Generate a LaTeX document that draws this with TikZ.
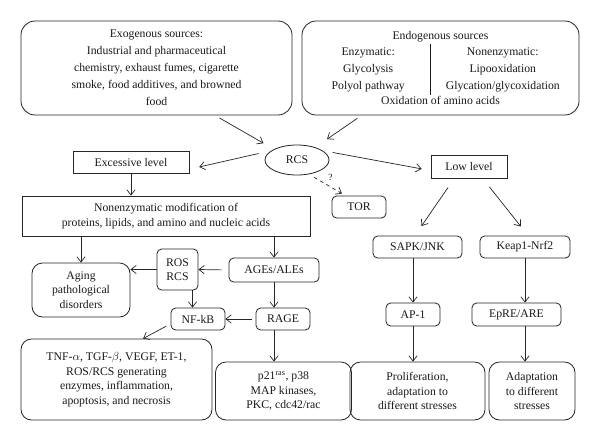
\documentclass[tikz,border=0pt]{standalone}
\usepackage{fontspec}
\setmainfont{Liberation Serif}
\usepackage{array}
\usetikzlibrary{arrows.meta,shapes.geometric}
\begin{document}
\begin{tikzpicture}[x=0.03cm,y=-0.03cm,
	>={Straight Barb[length=4.5pt,width=7pt]},
	every node/.style={font=\fontsize{10}{12.5}\selectfont, align=center, text=black!90},
	box/.style={draw=black!85, line width=0.7pt, inner sep=1pt},
	rbox/.style={box, rounded corners=4pt},
	bigbox/.style={box, rounded corners=9pt},
	srcbox/.style={box, rounded corners=12pt, font=\fontsize{10}{14.5}\selectfont},
	arr/.style={->, draw=black!85, line width=0.6pt}]
	\useasboundingbox (0,0) rectangle (600,441);
	\node[srcbox, minimum width=8.13cm, minimum height=2.82cm] (exo) at (156.5,68) {Exogenous sources:\\Industrial and pharmaceutical\\chemistry, exhaust fumes, cigarette\\smoke, food additives, and browned\\food};
	\node[srcbox, minimum width=8.31cm, minimum height=2.82cm] (endo) at (440.5,68) {Endogenous sources\\
		\begin{tabular}{@{}>{\centering\arraybackslash}p{3.3cm}|>{\centering\arraybackslash}p{3.9cm}@{}}
			Enzymatic: & Nonenzymatic:\\ Glycolysis & Lipooxidation\\ Polyol pathway & Glycation/glycoxidation
		\end{tabular}\\Oxidation of amino acids};
	\node[draw=black!85, line width=0.7pt, ellipse, minimum width=1.92cm, minimum height=0.9cm] (rcs) at (297,160) {RCS};
	\node[box, minimum width=3.48cm, minimum height=0.66cm] (excess) at (131,162) {Excessive level};
	\node[box, minimum width=2.28cm, minimum height=0.69cm] (low) at (469,166.5) {Low level};
	\node[rbox, minimum width=1.62cm, minimum height=0.66cm] (tor) at (359,207) {TOR};
	\node[box, minimum width=8.64cm, minimum height=1.2cm] (nonenz) at (166,216) {Nonenzymatic modification of\\proteins, lipids, and amino and nucleic acids};
	\node[bigbox, minimum width=2.94cm, minimum height=1.62cm] (aging) at (81,290) {Aging\\pathological\\disorders};
	\node[rbox, minimum width=1.23cm, minimum height=1.23cm] (ros) at (177.5,269.5) {ROS\\RCS};
	\node[rbox, minimum width=2.7cm, minimum height=0.72cm] (ages) at (274,270) {AGEs/ALEs};
	\node[rbox, minimum width=1.62cm, minimum height=0.66cm] (nfkb) at (198,319) {NF-kB};
	\node[rbox, minimum width=1.62cm, minimum height=0.66cm] (rage) at (283,319) {RAGE};
	\node[bigbox, minimum width=5.73cm, minimum height=2.43cm] (tnf) at (116.5,379.5) {TNF-$\alpha$, TGF-$\beta$, VEGF, ET-1,\\ROS/RCS generating\\enzymes, inflammation,\\apoptosis, and necrosis};
	\node[bigbox, minimum width=4.08cm, minimum height=1.74cm] (p21) at (283.5,391) {p21\textsuperscript{ras}, p38\\MAP kinases,\\PKC, cdc42/rac};
	\node[rbox, minimum width=2.67cm, minimum height=0.66cm] (sapk) at (417.5,247) {SAPK/JNK};
	\node[rbox, minimum width=2.7cm, minimum height=0.66cm] (keap) at (525,247) {Keap1-Nrf2};
	\node[rbox, minimum width=1.62cm, minimum height=0.69cm] (ap1) at (413,314.5) {AP-1};
	\node[rbox, minimum width=2.67cm, minimum height=0.69cm] (epre) at (516.5,314.5) {EpRE/ARE};
	\node[bigbox, minimum width=4.05cm, minimum height=1.74cm] (prolif) at (417.5,391) {Proliferation,\\adaptation to\\different stresses};
	\node[bigbox, minimum width=2.58cm, minimum height=1.74cm] (adapt) at (532,391) {Adaptation\\to different\\stresses};
	\draw[arr, shorten <=0.15cm, shorten >=0.36cm] (exo.-39) -- (rcs.155);
	\draw[arr, shorten <=0.15cm, shorten >=0.43cm] (endo.-149) -- (rcs.35);
	\draw[arr, shorten <=0.39cm, shorten >=0.3cm] (rcs.160) -- (excess.-7);
	\draw[arr, shorten <=0.3cm, shorten >=0.27cm] (rcs.20) -- (low.186);
	\draw[arr, dashed, shorten <=0.18cm, shorten >=0.12cm] (rcs.-50) -- node[pos=0.45, above right=-1pt, font=\footnotesize] {?} (tor.140);
	\draw[arr] (excess.south) -- (excess.south |- nonenz.north);
	\draw[arr] (nonenz.south -| aging.north) -- (aging.north);
	\draw[arr] (nonenz.south -| ages.north) -- (ages.north);
	\draw[arr, shorten <=0.2cm] (ages.west) -- (ros.east);
	\draw[arr] (ros.west) -- (ros.west -| aging.east);
	\draw[arr] ([xshift=0.45cm]ros.south) -- ([xshift=0.45cm]ros.south |- nfkb.north);
	\draw[arr] (ages.south) -- (ages.south |- rage.north);
	\draw[arr, shorten <=0.12cm] (rage.west) -- (nfkb.east);
	\draw[arr, shorten <=0.15cm] (nfkb.190) -- (tnf.57);
	\draw[arr] (ages.south |- rage.south) -- (ages.south |- p21.north);
	\draw[arr, shorten <=0.33cm, shorten >=0.35cm] (low.-141) -- (sapk.103);
	\draw[arr, shorten <=0.33cm, shorten >=0.35cm] (low.-41) -- (keap.75);
	\draw[arr] (ap1.north |- sapk.south) -- (ap1.north);
	\draw[arr] (keap.south) -- (keap.south |- epre.north);
	\draw[arr] (ap1.south) -- (ap1.south |- prolif.north);
	\draw[arr] (keap.south |- epre.south) -- (keap.south |- adapt.north);
\end{tikzpicture}
\end{document}
